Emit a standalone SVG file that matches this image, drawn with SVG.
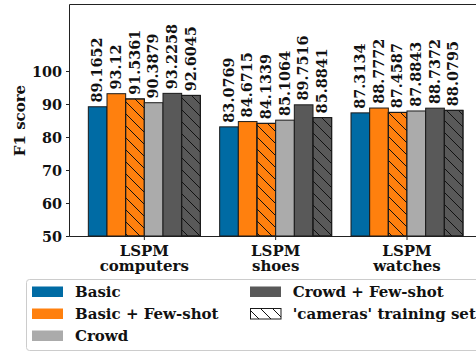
<svg xmlns="http://www.w3.org/2000/svg" width="476" height="352" viewBox="0 0 476 352">
<style>
text{font-family:"DejaVu Serif","Liberation Serif",serif;font-weight:bold;font-size:14.4px;fill:#111}
.w{font-size:15px}
.bar{stroke:#1a1a1a;stroke-width:1}
.b{fill:#006BA4}.o{fill:#FF800E}.g{fill:#ABABAB}.d{fill:#595959}
.h{fill:url(#hatch);stroke:#1a1a1a;stroke-width:1}
.spine{stroke:#222;stroke-width:1;fill:none}
.tk{stroke:#222;stroke-width:1}
.yl{text-anchor:end}
.xl{text-anchor:middle}
</style>
<defs>
<pattern id="hatch" patternUnits="userSpaceOnUse" width="12" height="12">
<path d="M-3,-3 L15,15 M-3,9 L3,15 M9,-3 L15,3" stroke="#111" stroke-width="1" fill="none"/>
</pattern>
</defs>
<g id="axes">
<path class="spine" d="M69.5,236.5 V4.5 H480"/>
<path class="spine" d="M69.5,236.5 H480"/>
<g id="yticks">
<path class="tk" d="M66,236.5H69.5M66,203.5H69.5M66,170.5H69.5M66,137.5H69.5M66,104.5H69.5M66,71.5H69.5"/>
<text class="yl" x="62" y="241.5">50</text>
<text class="yl" x="62" y="208.5">60</text>
<text class="yl" x="62" y="175.5">70</text>
<text class="yl" x="62" y="142.5">80</text>
<text class="yl" x="62" y="109.5">90</text>
<text class="yl" x="62" y="76.5">100</text>
</g>
<text class="w" transform="translate(24.5,120.5) rotate(-90)" text-anchor="middle">F1 score</text>
</g>
<g id="group-computers">
<rect class="bar b" x="88.33" y="106.76" width="18.67" height="129.24"/>
<rect class="bar o" x="107" y="93.70" width="18.67" height="142.3"/>
<rect class="bar o" x="125.67" y="98.93" width="18.67" height="137.07"/>
<rect class="h" x="125.67" y="98.93" width="18.67" height="137.07"/>
<rect class="bar g" x="144.33" y="102.72" width="18.67" height="133.28"/>
<rect class="bar d" x="163" y="93.36" width="18.67" height="142.64"/>
<rect class="bar d" x="181.67" y="95.41" width="18.67" height="140.59"/>
<rect class="h" x="181.67" y="95.41" width="18.67" height="140.59"/>
<text transform="translate(102.46,102.56) rotate(-90)">89.1652</text>
<text transform="translate(121.13,89.5) rotate(-90)">93.12</text>
<text transform="translate(139.8,94.73) rotate(-90)">91.5361</text>
<text transform="translate(158.46,98.52) rotate(-90)">90.3879</text>
<text transform="translate(177.13,89.16) rotate(-90)">93.2258</text>
<text transform="translate(195.8,91.21) rotate(-90)">92.6045</text>
</g>
<g id="group-shoes">
<rect class="bar b" x="219.67" y="126.85" width="18.67" height="109.15"/>
<rect class="bar o" x="238.33" y="121.58" width="18.67" height="114.42"/>
<rect class="bar o" x="257" y="123.36" width="18.67" height="112.64"/>
<rect class="h" x="257" y="123.36" width="18.67" height="112.64"/>
<rect class="bar g" x="275.67" y="120.15" width="18.67" height="115.85"/>
<rect class="bar d" x="294.33" y="104.82" width="18.67" height="131.18"/>
<rect class="bar d" x="313" y="117.58" width="18.67" height="118.42"/>
<rect class="h" x="313" y="117.58" width="18.67" height="118.42"/>
<text transform="translate(233.8,122.65) rotate(-90)">83.0769</text>
<text transform="translate(252.46,117.38) rotate(-90)">84.6715</text>
<text transform="translate(271.13,119.16) rotate(-90)">84.1339</text>
<text transform="translate(289.8,115.95) rotate(-90)">85.1064</text>
<text transform="translate(308.46,100.62) rotate(-90)">89.7516</text>
<text transform="translate(327.13,113.38) rotate(-90)">85.8841</text>
</g>
<g id="group-watches">
<rect class="bar b" x="351" y="112.87" width="18.67" height="123.13"/>
<rect class="bar o" x="369.67" y="108.04" width="18.67" height="127.96"/>
<rect class="bar o" x="388.33" y="112.39" width="18.67" height="123.61"/>
<rect class="h" x="388.33" y="112.39" width="18.67" height="123.61"/>
<rect class="bar g" x="407" y="110.98" width="18.67" height="125.02"/>
<rect class="bar d" x="425.67" y="108.17" width="18.67" height="127.83"/>
<rect class="bar d" x="444.33" y="110.34" width="18.67" height="125.66"/>
<rect class="h" x="444.33" y="110.34" width="18.67" height="125.66"/>
<text transform="translate(365.13,108.67) rotate(-90)">87.3134</text>
<text transform="translate(383.8,103.84) rotate(-90)">88.7772</text>
<text transform="translate(402.46,108.19) rotate(-90)">87.4587</text>
<text transform="translate(421.13,106.78) rotate(-90)">87.8843</text>
<text transform="translate(439.8,103.97) rotate(-90)">88.7372</text>
<text transform="translate(458.46,106.14) rotate(-90)">88.0795</text>
</g>
<g id="xticks">
<path class="tk" d="M144.33,236V240M275.67,236V240M407,236V240"/>
<text class="xl w" x="144.33" y="255.5"><tspan x="144.33">LSPM</tspan><tspan x="144.33" dy="15.5">computers</tspan></text>
<text class="xl w" x="275.67" y="255.5"><tspan x="275.67">LSPM</tspan><tspan x="275.67" dy="15.5">shoes</tspan></text>
<text class="xl w" x="407" y="255.5"><tspan x="407">LSPM</tspan><tspan x="407" dy="15.5">watches</tspan></text>
</g>
<g id="legend">
<rect x="26.5" y="279.5" width="470" height="71" rx="3" fill="#fff" fill-opacity="0.8" stroke="#ccc" stroke-width="1"/>
<rect class="b" x="32" y="286.5" width="31" height="10.5"/>
<text class="w" x="75" y="296.5">Basic</text>
<rect class="o" x="32" y="308.5" width="31" height="10.5"/>
<text class="w" x="75" y="318.5">Basic + Few-shot</text>
<rect class="g" x="32" y="330.5" width="31" height="10.5"/>
<text class="w" x="75" y="340.5">Crowd</text>
<rect class="d" x="250" y="286.5" width="31" height="10.5"/>
<text class="w" x="292.7" y="296.5">Crowd + Few-shot</text>
<rect x="250.5" y="308.5" width="30.5" height="10.5" fill="#fff"/>
<rect class="h" x="250.5" y="308.5" width="30.5" height="10.5"/>
<text class="w" x="292.7" y="318.5">'cameras' training set</text>
</g>
</svg>
